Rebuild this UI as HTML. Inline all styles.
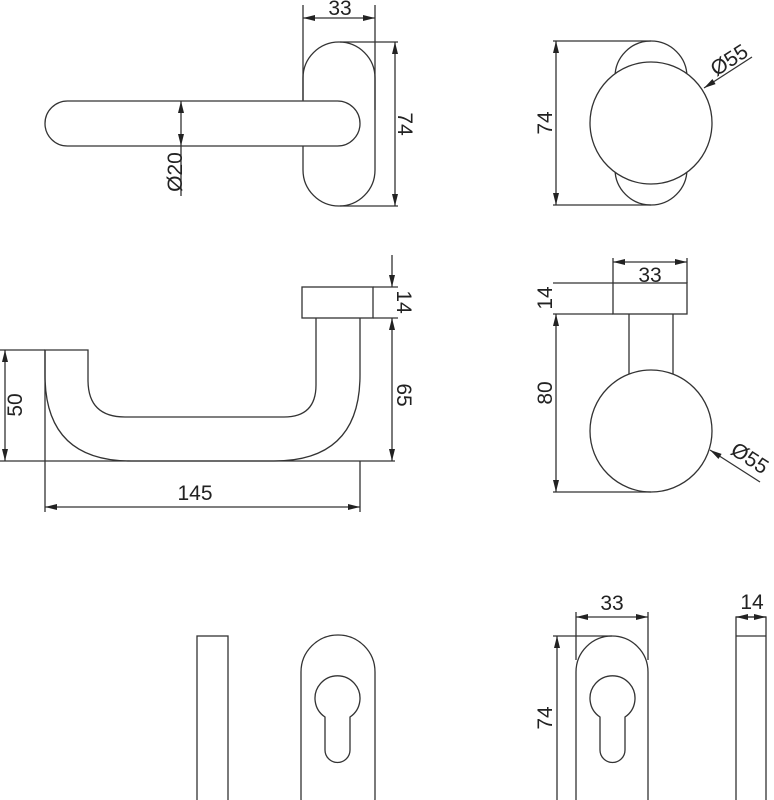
<!DOCTYPE html>
<html><head><meta charset="utf-8"><style>
html,body{margin:0;padding:0;background:#fff}
svg{display:block}
text{font-family:"Liberation Sans",sans-serif;font-size:21px;fill:#222}
</style></head><body>
<svg width="774" height="800" viewBox="0 0 774 800" xmlns="http://www.w3.org/2000/svg">
<defs>
<marker id="a" viewBox="0 0 12 6" refX="12" refY="3" markerWidth="12" markerHeight="6" orient="auto-start-reverse" markerUnits="userSpaceOnUse"><path d="M0,0 L12,3 L0,6 z" fill="#222"/></marker>
</defs>
<g fill="none" stroke="#333" stroke-width="1.3">
<!-- top-left -->
<rect x="303" y="42" width="72" height="164" rx="36" fill="#fff"/>
<rect x="45" y="101" width="315" height="45" rx="22.5" fill="#fff"/>
<line x1="303" y1="5" x2="303" y2="100"/><line x1="375" y1="5" x2="375" y2="110"/>
<line x1="303" y1="18" x2="375" y2="18" marker-start="url(#a)" marker-end="url(#a)"/>
<line x1="340" y1="42" x2="398" y2="42"/><line x1="340" y1="206" x2="398" y2="206"/>
<line x1="395" y1="42" x2="395" y2="206" marker-start="url(#a)" marker-end="url(#a)"/>
<line x1="181" y1="101" x2="181" y2="146" marker-start="url(#a)" marker-end="url(#a)"/>
<line x1="181" y1="146" x2="181" y2="196"/>
<!-- top-right -->
<rect x="615" y="41" width="72" height="164" rx="36" fill="#fff"/>
<circle cx="651" cy="123" r="61" fill="#fff"/>
<line x1="553" y1="41" x2="651" y2="41"/><line x1="553" y1="205" x2="651" y2="205"/>
<line x1="556" y1="41" x2="556" y2="205" marker-start="url(#a)" marker-end="url(#a)"/>
<line x1="752" y1="57" x2="704" y2="88" marker-end="url(#a)"/>
<!-- middle-left -->
<rect x="302" y="287" width="71" height="31"/>
<path d="M316,318 V385 Q316,417 284,417 H125 Q88,417 88,380 V350 H45 V375 Q45,461 131,461 H274 Q360,461 360,375 V318"/>
<line x1="0" y1="461" x2="395" y2="461"/>
<line x1="0" y1="350" x2="45" y2="350"/>
<line x1="45" y1="350" x2="45" y2="512"/><line x1="360" y1="461" x2="360" y2="512"/>
<line x1="45" y1="507" x2="360" y2="507" marker-start="url(#a)" marker-end="url(#a)"/>
<line x1="5" y1="350" x2="5" y2="461" marker-start="url(#a)" marker-end="url(#a)"/>
<line x1="373" y1="287" x2="398" y2="287"/><line x1="373" y1="318" x2="398" y2="318"/>
<line x1="392" y1="318" x2="392" y2="461" marker-start="url(#a)" marker-end="url(#a)"/>
<line x1="392" y1="255" x2="392" y2="287" marker-end="url(#a)"/>
<!-- middle-right -->
<rect x="613" y="283" width="74" height="31"/>
<line x1="629" y1="314" x2="629" y2="375"/><line x1="673" y1="314" x2="673" y2="375"/>
<circle cx="651" cy="431" r="61" fill="#fff"/>
<line x1="613" y1="258" x2="613" y2="283"/><line x1="687" y1="258" x2="687" y2="283"/>
<line x1="613" y1="262" x2="687" y2="262" marker-start="url(#a)" marker-end="url(#a)"/>
<line x1="553" y1="283" x2="613" y2="283"/><line x1="553" y1="314" x2="613" y2="314"/>
<line x1="553" y1="492" x2="651" y2="492"/>
<line x1="556" y1="314" x2="556" y2="492" marker-start="url(#a)" marker-end="url(#a)"/>
<line x1="760" y1="482" x2="710" y2="450" marker-end="url(#a)"/>
<!-- bottom -->
<rect x="197" y="636" width="31" height="170"/>
<rect x="301" y="635" width="74" height="200" rx="37"/>
<path d="M325,717 A22.5,22.5 0 1 1 350,717 V750 A12.5,12.5 0 0 1 325,750 Z"/>
<rect x="576" y="636" width="72" height="200" rx="36"/>
<path d="M600,717 A22.5,22.5 0 1 1 625,717 V750 A12.5,12.5 0 0 1 600,750 Z"/>
<line x1="576" y1="612" x2="576" y2="660"/><line x1="648" y1="612" x2="648" y2="660"/>
<line x1="576" y1="617" x2="648" y2="617" marker-start="url(#a)" marker-end="url(#a)"/>
<line x1="553" y1="636" x2="612" y2="636"/>
<line x1="557" y1="636" x2="557" y2="800" marker-start="url(#a)"/>
<rect x="736" y="617" width="30" height="190"/>
<line x1="736" y1="636" x2="766" y2="636"/>
<line x1="736" y1="617" x2="766" y2="617" marker-start="url(#a)" marker-end="url(#a)"/>
</g>
<text x="340" y="15" text-anchor="middle">33</text>
<text transform="translate(398,124) rotate(90)" text-anchor="middle">74</text>
<text transform="translate(182,172) rotate(-90)" text-anchor="middle">Ø20</text>
<text transform="translate(552,123) rotate(-90)" text-anchor="middle">74</text>
<text transform="translate(733,66) rotate(-33)" text-anchor="middle">Ø55</text>
<text x="195" y="500" text-anchor="middle">145</text>
<text transform="translate(22,405) rotate(-90)" text-anchor="middle">50</text>
<text transform="translate(397,395) rotate(90)" text-anchor="middle">65</text>
<text transform="translate(397,302) rotate(90)" text-anchor="middle">14</text>
<text x="650" y="282" text-anchor="middle">33</text>
<text transform="translate(552,298) rotate(-90)" text-anchor="middle">14</text>
<text transform="translate(552,393) rotate(-90)" text-anchor="middle">80</text>
<text transform="translate(746,464) rotate(33)" text-anchor="middle">Ø55</text>
<text x="612" y="610" text-anchor="middle">33</text>
<text transform="translate(552,718) rotate(-90)" text-anchor="middle">74</text>
<text x="752" y="609" text-anchor="middle">14</text>
</svg>
</body></html>
